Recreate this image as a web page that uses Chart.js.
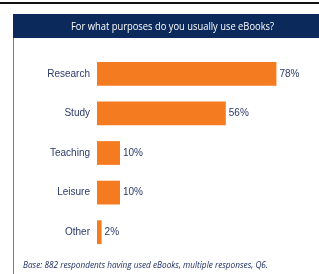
<!DOCTYPE html>
<html>
<head>
<meta charset="utf-8">
<script src="https://cdn.jsdelivr.net/npm/chart.js@4"></script>
<style>
  html, body { margin: 0; padding: 0; background: #fff; }
  #wrap { position: relative; width: 319px; height: 274px; overflow: hidden; }
  #topline { position: absolute; left: 0; top: 2px; width: 319px; height: 2px; background: #111; }
  #leftline { position: absolute; left: 13px; top: 14px; width: 1px; height: 260px; background: #6a7c9c; }
  #header { position: absolute; left: 13px; top: 14px; width: 306px; height: 24px; background: #0b2a5b; }
  #title { position: absolute; left: 172px; top: 26px; color: #fff; transform-origin: 0 0;
    font-family: "Open Sans", sans-serif; font-size: 11.5px; line-height: 1; white-space: nowrap; }
  #note { position: absolute; left: 23px; top: 265px; color: #1e2f62; transform-origin: 0 0;
    font-family: "Open Sans", sans-serif; font-style: italic; font-size: 9.5px; line-height: 1; white-space: nowrap; }
  canvas { position: absolute; left: 0; top: 0; }
</style>
</head>
<body>
<div id="wrap">
  <div id="topline"></div>
  <div id="leftline"></div>
  <div id="header"></div>
  <canvas id="chart" width="319" height="274"></canvas>
  <div id="title">For what purposes do you usually use eBooks?</div>
  <div id="note">Base: 882 respondents having used eBooks, multiple responses, Q6.</div>
</div>
<script>
const purposes = ['Research', 'Study', 'Teaching', 'Leisure', 'Other'];
const shares = [78, 56, 10, 10, 2];

// squeeze a line of text sideways to the width seen in the original (condensed face)
function fitWidth(el, target, centred) {
  const r = el.getBoundingClientRect();
  const k = target / r.width;
  const left = parseFloat(el.style.left || getComputedStyle(el).left);
  const top = parseFloat(getComputedStyle(el).top);
  if (centred) el.style.left = (left - target / 2) + 'px';
  el.style.top = (top - r.height / 2) + 'px';
  el.style.transform = 'scaleX(' + k.toFixed(3) + ')';
}
fitWidth(document.getElementById('title'), 203, true);
fitWidth(document.getElementById('note'), 245, false);

// value labels at the end of each bar
const valueLabels = {
  id: 'valueLabels',
  afterDatasetsDraw(chart) {
    const ctx = chart.ctx;
    const meta = chart.getDatasetMeta(0);
    ctx.save();
    ctx.font = '10px "Liberation Sans", Arial, sans-serif';
    ctx.fillStyle = '#2b3a67';
    ctx.textBaseline = 'middle';
    meta.data.forEach((bar, i) => {
      ctx.fillText(shares[i] + '%', bar.x + 3, bar.y);
    });
    ctx.restore();
  }
};

new Chart(document.getElementById('chart'), {
  type: 'bar',
  data: {
    labels: purposes,
    datasets: [{
      data: shares,
      backgroundColor: '#f47b20',
      barPercentage: 0.6,
      categoryPercentage: 1
    }]
  },
  options: {
    indexAxis: 'y',
    responsive: false,
    animation: false,
    layout: { padding: { top: 54, bottom: 22, left: 0, right: 15 } },
    scales: {
      x: { display: false, min: 0, max: 90 },
      y: {
        grid: { display: false, drawTicks: false },
        border: { display: false },
        ticks: { padding: 7, color: '#2b3a67', font: { family: '"Liberation Sans", Arial, sans-serif', size: 10 } },
        afterFit(scale) { scale.width = 97; }
      }
    },
    plugins: { legend: { display: false }, tooltip: { enabled: false } }
  },
  plugins: [valueLabels]
});
</script>
</body>
</html>
